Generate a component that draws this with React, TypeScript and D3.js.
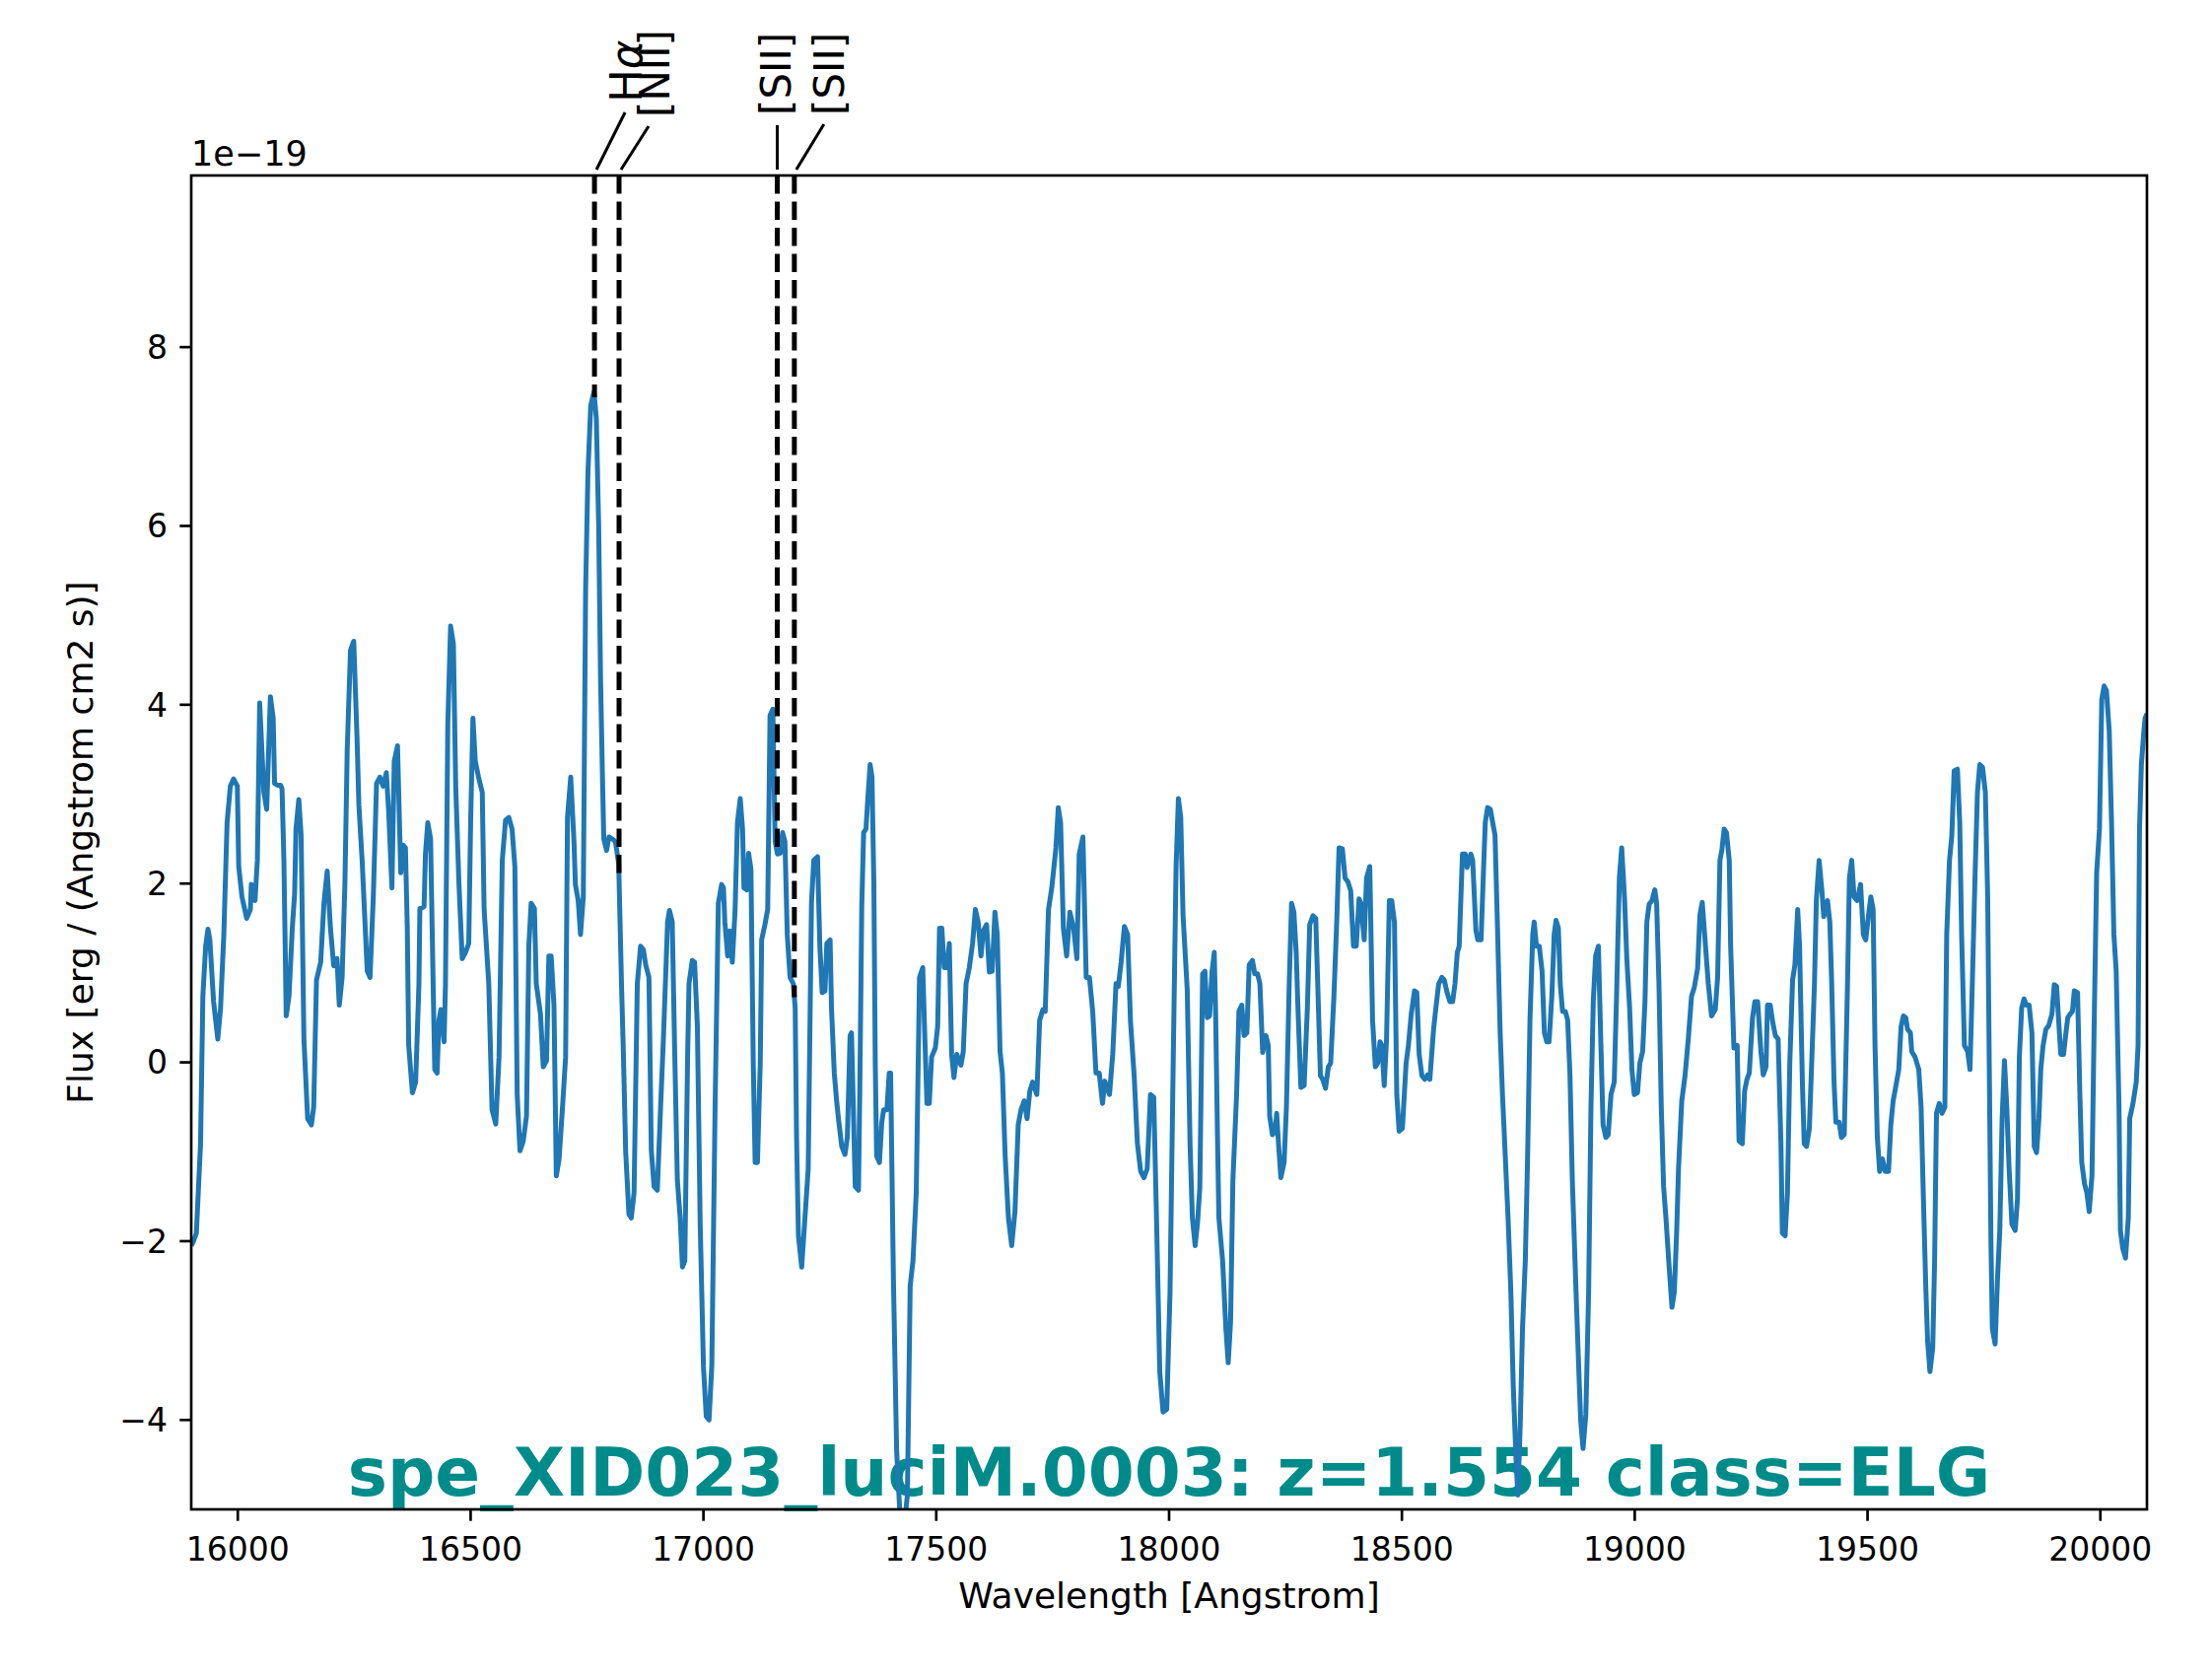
import React, { useEffect, useRef } from "react";
import * as d3 from "d3";

// ---------------- data ----------------
const wavelength: number[] = [
  15900, 15904, 15911, 15920, 15925, 15931, 15936, 15940, 15948, 15957, 15963, 15970, 15977, 15984, 15991, 15999,
  16002, 16009, 16019, 16027, 16029, 16037, 16042, 16047, 16056, 16062, 16070, 16076, 16079, 16085, 16092, 16095,
  16099, 16104, 16110, 16117, 16122, 16125, 16131, 16136, 16142, 16150, 16158, 16163, 16169, 16178, 16185, 16192,
  16199, 16206, 16213, 16218, 16224, 16230, 16235, 16242, 16249, 16256, 16260, 16267, 16278, 16284, 16291, 16298,
  16305, 16312, 16319, 16324, 16331, 16336, 16343, 16350, 16355, 16360, 16364, 16367, 16375, 16382, 16389, 16391,
  16400, 16403, 16408, 16414, 16420, 16423, 16428, 16432, 16436, 16443, 16446, 16451, 16457, 16463, 16468, 16475,
  16482, 16489, 16496, 16500, 16505, 16510, 16517, 16525, 16529, 16539, 16546, 16554, 16561, 16568, 16575, 16582,
  16589, 16595, 16600, 16606, 16613, 16620, 16625, 16630, 16637, 16641, 16650, 16656, 16663, 16668, 16673, 16679,
  16684, 16690, 16697, 16704, 16708, 16715, 16722, 16725, 16731, 16736, 16742, 16747, 16752, 16758, 16765, 16770,
  16775, 16779, 16783, 16786, 16792, 16797, 16804, 16811, 16818, 16824, 16828, 16833, 16840, 16845, 16851, 16858,
  16865, 16871, 16876, 16883, 16888, 16894, 16901, 16908, 16914, 16923, 16927, 16933, 16938, 16944, 16950, 16955,
  16960, 16966, 16969, 16976, 16981, 16987, 16993, 17000, 17006, 17012, 17018, 17025, 17032, 17039, 17043, 17046,
  17052, 17057, 17062, 17068, 17073, 17079, 17084, 17087, 17093, 17097, 17102, 17107, 17111, 17116, 17122, 17125,
  17132, 17138, 17143, 17149, 17154, 17159, 17165, 17170, 17175, 17180, 17186, 17193, 17197, 17200, 17204, 17211,
  17218, 17225, 17232, 17237, 17245, 17250, 17255, 17261, 17265, 17272, 17275, 17281, 17286, 17290, 17297, 17304,
  17309, 17315, 17318, 17326, 17333, 17336, 17340, 17344, 17349, 17353, 17358, 17362, 17366, 17369, 17372, 17378,
  17383, 17387, 17394, 17399, 17402, 17408, 17415, 17422, 17429, 17438, 17444, 17450, 17457, 17464, 17471, 17476,
  17480, 17485, 17490, 17498, 17503, 17507, 17512, 17517, 17523, 17528, 17533, 17538, 17544, 17553, 17558, 17564,
  17571, 17578, 17584, 17590, 17596, 17601, 17608, 17614, 17620, 17626, 17631, 17637, 17642, 17648, 17655, 17662,
  17669, 17676, 17682, 17689, 17695, 17701, 17707, 17716, 17722, 17729, 17734, 17741, 17748, 17757, 17762, 17767,
  17773, 17780, 17787, 17795, 17802, 17807, 17815, 17822, 17829, 17836, 17843, 17850, 17857, 17862, 17872, 17879,
  17886, 17891, 17897, 17904, 17911, 17917, 17925, 17932, 17939, 17946, 17953, 17960, 17967, 17973, 17980, 17987,
  17995, 18002, 18009, 18015, 18020, 18025, 18030, 18039, 18045, 18050, 18056, 18061, 18066, 18072, 18077, 18082,
  18087, 18092, 18097, 18100, 18104, 18107, 18115, 18122, 18127, 18132, 18137, 18145, 18150, 18156, 18161, 18167,
  18172, 18179, 18184, 18190, 18195, 18201, 18208, 18213, 18216, 18222, 18228, 18231, 18235, 18240, 18247, 18252,
  18258, 18263, 18268, 18273, 18277, 18283, 18290, 18297, 18302, 18309, 18315, 18320, 18325, 18330, 18336, 18342,
  18347, 18354, 18360, 18365, 18372, 18378, 18384, 18390, 18396, 18402, 18408, 18412, 18419, 18424, 18431, 18437,
  18443, 18448, 18453, 18457, 18462, 18467, 18473, 18478, 18484, 18489, 18494, 18501, 18509, 18514, 18520, 18527,
  18532, 18537, 18543, 18549, 18555, 18560, 18568, 18573, 18579, 18586, 18591, 18597, 18603, 18609, 18614, 18619,
  18623, 18630, 18636, 18640, 18648, 18652, 18659, 18663, 18670, 18675, 18679, 18684, 18690, 18695, 18700, 18705,
  18711, 18716, 18722, 18728, 18734, 18739, 18745, 18749, 18754, 18759, 18765, 18770, 18775, 18781, 18784, 18789,
  18795, 18801, 18806, 18811, 18816, 18822, 18827, 18831, 18836, 18840, 18845, 18851, 18856, 18861, 18866, 18874,
  18881, 18884, 18889, 18895, 18901, 18906, 18911, 18916, 18922, 18927, 18932, 18938, 18943, 18949, 18956, 18961,
  18967, 18972, 18978, 18983, 18989, 18994, 18999, 19006, 19011, 19017, 19022, 19026, 19031, 19037, 19043, 19047,
  19052, 19057, 19062, 19067, 19073, 19080, 19085, 19090, 19094, 19101, 19108, 19115, 19122, 19128, 19135, 19140,
  19145, 19152, 19158, 19165, 19173, 19178, 19183, 19187, 19192, 19197, 19203, 19206, 19213, 19220, 19224, 19231,
  19236, 19241, 19246, 19253, 19258, 19264, 19271, 19276, 19282, 19285, 19291, 19297, 19302, 19308, 19314, 19317,
  19323, 19328, 19333, 19339, 19344, 19350, 19354, 19360, 19364, 19369, 19375, 19380, 19386, 19390, 19396, 19402,
  19406, 19414, 19419, 19423, 19428, 19432, 19439, 19444, 19450, 19453, 19457, 19461, 19466, 19471, 19478, 19485,
  19491, 19496, 19502, 19507, 19512, 19516, 19521, 19526, 19532, 19538, 19545, 19550, 19555, 19561, 19567, 19572,
  19577, 19582, 19586, 19592, 19595, 19602, 19610, 19615, 19620, 19625, 19629, 19634, 19640, 19644, 19648, 19654,
  19660, 19666, 19670, 19676, 19681, 19686, 19693, 19698, 19702, 19708, 19715, 19720, 19725, 19731, 19736, 19741,
  19747, 19753, 19758, 19761, 19765, 19768, 19774, 19779, 19784, 19789, 19794, 19799, 19804, 19810, 19817, 19822,
  19826, 19831, 19836, 19841, 19847, 19853, 19858, 19863, 19868, 19872, 19877, 19883, 19889, 19896, 19901, 19906,
  19912, 19915, 19921, 19926, 19930, 19935, 19940, 19944, 19951, 19956, 19960, 19966, 19971, 19976, 19982, 19987,
  19992, 19998, 20003, 20008, 20013, 20019, 20024, 20029, 20034, 20040, 20043, 20048, 20054, 20060, 20063, 20070,
  20077, 20081, 20084, 20088, 20093, 20096, 20100,
];

const flux: number[] = [
  -2.05, -2.01, -1.91, -0.91, 0.74, 1.30, 1.49, 1.37, 0.68, 0.26, 0.61, 1.43, 2.68, 3.09, 3.17, 3.09,
  2.19, 1.85, 1.61, 1.71, 1.99, 1.81, 2.26, 4.02, 3.02, 2.83, 4.09, 3.85, 3.12, 3.10, 3.10, 3.06,
  2.26, 0.52, 0.74, 1.50, 1.88, 2.61, 2.94, 2.54, 0.26, -0.63, -0.70, -0.50, 0.92, 1.12, 1.78, 2.14,
  1.50, 1.08, 1.16, 0.64, 0.95, 1.99, 3.50, 4.61, 4.71, 3.64, 2.88, 2.26, 1.02, 0.95, 1.85, 3.12,
  3.19, 3.09, 3.24, 2.81, 1.95, 3.37, 3.54, 2.12, 2.43, 2.40, 1.50, 0.19, -0.34, -0.22, 0.88, 1.72,
  1.74, 2.33, 2.68, 2.50, 0.74, -0.08, -0.12, 0.47, 0.59, 0.23, 0.88, 3.78, 4.88, 4.68, 3.09, 1.99,
  1.16, 1.23, 1.33, 2.68, 3.85, 3.37, 3.19, 3.02, 1.71, 0.88, -0.53, -0.69, 0.06, 2.26, 2.71, 2.74,
  2.61, 2.19, -0.36, -0.99, -0.88, -0.60, 1.30, 1.78, 1.72, 0.88, 0.54, -0.05, 0.02, 1.19, 1.19, 0.64,
  -1.27, -1.08, -0.53, 0.06, 2.74, 3.19, 2.47, 1.99, 1.81, 1.43, 1.85, 5.30, 6.60, 7.35, 7.50, 7.20,
  6.00, 4.30, 3.23, 2.50, 2.37, 2.52, 2.50, 2.47, 2.22, 0.88, 0.12, -1.00, -1.70, -1.74, -1.46, 0.88,
  1.30, 1.26, 1.09, 0.95, -0.98, -1.39, -1.43, -0.50, 0.26, 1.57, 1.70, 1.57, 0.19, -1.32, -1.74, -2.29,
  -2.22, 0.06, 0.88, 1.14, 1.12, 0.40, -1.80, -3.40, -3.96, -4.00, -3.39, -0.50, 1.78, 1.99, 1.95, 1.57,
  1.19, 1.47, 1.12, 1.71, 2.68, 2.95, 2.61, 1.95, 1.93, 2.34, 2.16, -0.01, -1.12, -1.12, -0.01, 1.37,
  1.54, 1.71, 3.88, 3.95, 2.47, 2.33, 2.34, 2.57, 2.47, 1.43, 0.95, 0.88, 0.61, -0.84, -1.94, -2.29,
  -1.74, -1.19, 1.78, 2.26, 2.30, 1.30, 0.78, 0.80, 1.33, 1.37, 0.61, -0.12, -0.43, -0.63, -0.94, -1.03,
  -0.84, 0.30, 0.33, -1.39, -1.43, -0.22, 1.74, 2.57, 2.61, 2.95, 3.33, 3.19, 1.99, -0.01, -1.05, -1.12,
  -0.67, -0.53, -0.53, -0.12, -0.12, -2.43, -4.36, -5.05, -5.30, -4.84, -2.50, -2.22, -1.46, 0.95, 1.06, 0.19,
  -0.46, -0.46, 0.06, 0.16, 0.40, 1.50, 1.50, 1.06, 1.06, 1.33, 0.09, -0.17, 0.09, -0.03, 0.12, 0.88,
  1.06, 1.33, 1.71, 1.57, 1.19, 1.47, 1.54, 1.01, 1.02, 1.68, 1.43, 0.12, -0.12, -1.05, -1.74, -2.05,
  -1.67, -0.70, -0.53, -0.43, -0.63, -0.32, -0.22, -0.36, 0.47, 0.59, 0.57, 1.71, 1.95, 2.40, 2.85, 2.68,
  1.50, 1.19, 1.68, 1.50, 1.16, 2.33, 2.52, 0.95, 0.95, 0.57, -0.12, -0.12, -0.46, -0.21, -0.36, 0.09,
  0.88, 0.85, 1.12, 1.52, 1.43, 0.47, -0.15, -0.91, -1.22, -1.29, -1.19, -0.36, -0.39, -1.74, -3.46, -3.91,
  -3.88, -2.57, 0.06, 2.19, 2.95, 2.74, 1.64, 0.81, -0.91, -1.74, -2.05, -1.80, -1.40, 0.99, 1.02, 0.50,
  0.52, 1.00, 1.23, 0.54, -0.84, -1.74, -2.22, -2.98, -3.36, -2.91, -1.32, -0.36, 0.57, 0.64, 0.30, 0.33,
  1.09, 1.14, 0.99, 0.99, 0.88, 0.11, 0.30, 0.19, -0.60, -0.81, -0.77, -0.57, -0.91, -1.29, -1.12, -0.50,
  0.88, 1.78, 1.68, 1.23, 0.57, -0.28, -0.26, 0.61, 1.54, 1.64, 1.61, 0.74, -0.15, -0.19, -0.29, -0.05,
  -0.01, 0.74, 1.57, 2.40, 2.39, 2.06, 2.02, 1.92, 1.30, 1.30, 1.83, 1.78, 1.37, 2.06, 2.19, 0.47,
  -0.05, -0.01, 0.23, 0.19, -0.26, 0.26, 1.81, 1.81, 1.57, -0.36, -0.77, -0.74, -0.01, 0.19, 0.54, 0.80,
  0.78, 0.09, -0.15, -0.19, -0.14, -0.19, 0.37, 0.61, 0.88, 0.95, 0.92, 0.78, 0.68, 0.68, 0.88, 1.23,
  1.30, 2.33, 2.33, 2.18, 2.33, 2.26, 1.47, 1.37, 1.37, 2.12, 2.68, 2.85, 2.83, 2.68, 2.54, 1.57,
  0.33, -0.36, -1.05, -1.74, -2.57, -3.60, -4.43, -4.84, -4.08, -2.98, -2.22, -1.05, 0.47, 1.43, 1.57, 1.30,
  1.30, 1.02, 0.33, 0.23, 0.23, 0.74, 1.43, 1.59, 1.50, 0.88, 0.57, 0.57, 0.47, -0.15, -1.32, -2.57,
  -3.60, -4.01, -4.32, -3.94, -2.57, -0.50, 0.68, 1.19, 1.30, 0.26, -0.70, -0.84, -0.81, -0.36, -0.22, 0.74,
  2.06, 2.40, 1.85, 1.16, 0.61, -0.08, -0.36, -0.34, -0.01, 0.12, 0.68, 1.57, 1.77, 1.81, 1.93, 1.78,
  0.88, -0.50, -1.39, -1.74, -2.22, -2.74, -2.57, -1.90, -1.19, -0.43, -0.15, 0.26, 0.74, 0.84, 1.05, 1.65,
  1.79, 1.30, 0.88, 0.52, 0.59, 0.95, 2.26, 2.37, 2.61, 2.57, 2.26, 1.30, 0.16, 0.19, -0.88, -0.91,
  -0.32, -0.19, -0.12, 0.50, 0.68, 0.68, 0.12, -0.14, -0.05, 0.64, 0.64, 0.43, 0.30, 0.26, -0.91, -1.91,
  -1.94, -1.46, -0.01, 0.92, 1.09, 1.71, 1.30, -0.22, -0.91, -0.94, -0.74, -0.01, 0.88, 1.81, 2.26, 1.92,
  1.63, 1.81, 1.57, 0.88, -0.22, -0.67, -0.67, -0.84, -0.81, -0.08, 0.88, 2.06, 2.26, 1.85, 1.81, 1.99,
  1.43, 1.37, 1.64, 1.85, 1.71, 0.19, -0.84, -1.22, -1.08, -1.22, -1.22, -0.70, -0.43, -0.26, -0.08, 0.40,
  0.52, 0.50, 0.37, 0.33, 0.12, 0.06, -0.08, -0.50, -1.53, -2.50, -3.12, -3.46, -3.19, -2.22, -0.57, -0.46,
  -0.57, -0.50, 1.43, 2.26, 2.54, 3.26, 3.28, 2.68, 1.43, 0.19, 0.12, -0.08, 0.88, 2.12, 3.02, 3.33,
  3.30, 3.02, 1.85, 0.19, -2.01, -2.98, -3.15, -2.43, -1.88, -0.63, 0.02, -0.50, -1.19, -1.81, -1.88, -1.53,
  0.06, 0.61, 0.71, 0.64, 0.64, 0.33, -0.94, -1.01, -0.63, -0.08, 0.19, 0.37, 0.41, 0.54, 0.87, 0.85,
  0.33, 0.09, 0.09, 0.33, 0.50, 0.54, 0.57, 0.80, 0.78, -0.36, -1.12, -1.36, -1.46, -1.67, -1.26, 0.54,
  2.12, 2.61, 4.06, 4.21, 4.16, 3.71, 2.68, 1.43, 1.02, -0.50, -1.88, -2.08, -2.19, -1.74, -0.63, -0.46,
  -0.22, 0.19, 2.61, 3.33, 3.68, 3.85, 3.90,
];

const lineNames: string[] = ["H\u03b1", "[NII]", "[SII]", "[SII]"];
const lineRestWavelength: number[] = [6564.61, 6585.27, 6718.29, 6732.67];
const redshift = 1.554;
const sourceName = "spe_XID023_luciM.0003";
const sourceClass = "ELG";

const xTicks: number[] = [16000, 16500, 17000, 17500, 18000, 18500, 19000, 19500, 20000];
const yTicks: number[] = [-4, -2, 0, 2, 4, 6, 8];
const xDomain: number[] = [15900, 20100];
const yDomain: number[] = [-5, 9.92];

// ---------------- layout (pixels) ----------------
const W = 2244;
const H = 1699;
const M = { left: 194, right: 2178, top: 178, bottom: 1531 };
// line-id placement: [connector start dx, connector end dx, connector end y, text baseline dx, text start y, font size]
const labelLayout: number[][] = [
  [2, 31, 114, 48, 104, 45],
  [2, 30, 128, 51, 119, 42],
  [0, 0, 127, 14, 117, 42],
  [2, 30, 126, 50, 117, 42],
];

const FONT = "DejaVu Sans, Liberation Sans, sans-serif";

export default function App() {
  const ref = useRef<SVGSVGElement | null>(null);

  useEffect(() => {
    document.body.style.margin = "0";
    const svg = d3.select(ref.current);
    svg.selectAll("*").remove();

    const x = d3.scaleLinear().domain(xDomain).range([M.left, M.right]);
    const y = d3.scaleLinear().domain(yDomain).range([M.bottom, M.top]);

    svg.append("rect").attr("x", 0).attr("y", 0).attr("width", W).attr("height", H).attr("fill", "white");

    const defs = svg.append("defs");
    defs
      .append("clipPath")
      .attr("id", "axclip")
      .append("rect")
      .attr("x", M.left)
      .attr("y", M.top)
      .attr("width", M.right - M.left)
      .attr("height", M.bottom - M.top);

    // title text inside axes (below the spectrum line)
    svg
      .append("text")
      .attr("x", (M.left + M.right) / 2)
      .attr("y", 1517)
      .attr("text-anchor", "middle")
      .attr("font-family", FONT)
      .attr("font-weight", "bold")
      .attr("font-size", 67.6)
      .attr("fill", "#008b8b")
      .text(`${sourceName}: z=${redshift.toFixed(3)} class=${sourceClass}`);

    const pts = wavelength.map((w, i) => [w, flux[i]] as [number, number]);
    const line = d3
      .line<[number, number]>()
      .x((d) => x(d[0]))
      .y((d) => y(d[1]));

    svg
      .append("path")
      .attr("d", line(pts) || "")
      .attr("fill", "none")
      .attr("stroke", "#1f77b4")
      .attr("stroke-width", 5)
      .attr("stroke-linejoin", "round")
      .attr("stroke-linecap", "butt")
      .attr("clip-path", "url(#axclip)");

    // emission line markers
    const interp = (w: number) => {
      const i = d3.bisectLeft(wavelength, w);
      if (i <= 0) return flux[0];
      if (i >= wavelength.length) return flux[flux.length - 1];
      const w0 = wavelength[i - 1], w1 = wavelength[i];
      const t = (w - w0) / (w1 - w0);
      return flux[i - 1] + t * (flux[i] - flux[i - 1]);
    };

    lineRestWavelength.forEach((rw, k) => {
      const obs = rw * (1 + redshift);
      const px = x(obs);
      const fv = interp(obs);
      svg
        .append("line")
        .attr("x1", px)
        .attr("x2", px)
        .attr("y1", y(yDomain[1]))
        .attr("y2", y(fv))
        .attr("stroke", "black")
        .attr("stroke-width", 5)
        .attr("stroke-dasharray", "18.5 8");

      const [sdx, edx, ey, tdx, ty, fs] = labelLayout[k];
      svg
        .append("line")
        .attr("x1", px + sdx)
        .attr("y1", M.top - 6)
        .attr("x2", px + edx)
        .attr("y2", ey)
        .attr("stroke", "black")
        .attr("stroke-width", 3);

      const t = svg
        .append("text")
        .attr("transform", `translate(${px + tdx},${ty}) rotate(-90)`)
        .attr("text-anchor", "start")
        .attr("font-family", FONT)
        .attr("font-size", fs)
        .attr("fill", "black");
      const name = lineNames[k];
      if (name.includes("\u03b1")) {
        t.append("tspan").text(name.replace("\u03b1", ""));
        t.append("tspan").attr("font-style", "italic").text("\u03b1");
      } else {
        t.text(name);
      }
    });

    // spines
    svg
      .append("rect")
      .attr("x", M.left)
      .attr("y", M.top)
      .attr("width", M.right - M.left)
      .attr("height", M.bottom - M.top)
      .attr("fill", "none")
      .attr("stroke", "black")
      .attr("stroke-width", 2.67);

    // x ticks
    const gx = svg.append("g");
    xTicks.forEach((t) => {
      gx.append("line")
        .attr("x1", x(t))
        .attr("x2", x(t))
        .attr("y1", M.bottom)
        .attr("y2", M.bottom + 11.7)
        .attr("stroke", "black")
        .attr("stroke-width", 2.67);
      gx.append("text")
        .attr("x", x(t))
        .attr("y", 1583)
        .attr("text-anchor", "middle")
        .attr("font-family", FONT)
        .attr("font-size", 33)
        .text(String(t));
    });

    // y ticks
    const gy = svg.append("g");
    yTicks.forEach((t) => {
      gy.append("line")
        .attr("x1", M.left - 11.7)
        .attr("x2", M.left)
        .attr("y1", y(t))
        .attr("y2", y(t))
        .attr("stroke", "black")
        .attr("stroke-width", 2.67);
      gy.append("text")
        .attr("x", M.left - 24)
        .attr("y", y(t))
        .attr("dy", "0.36em")
        .attr("text-anchor", "end")
        .attr("font-family", FONT)
        .attr("font-size", 33)
        .text(t < 0 ? `\u2212${Math.abs(t)}` : String(t));
    });

    // offset text
    svg
      .append("text")
      .attr("x", M.left)
      .attr("y", 168)
      .attr("font-family", FONT)
      .attr("font-size", 35)
      .text("1e\u221219");

    // axis labels
    svg
      .append("text")
      .attr("x", (M.left + M.right) / 2)
      .attr("y", 1631)
      .attr("text-anchor", "middle")
      .attr("font-family", FONT)
      .attr("font-size", 36)
      .text("Wavelength [Angstrom]");

    svg
      .append("text")
      .attr("transform", `translate(94,${(M.top + M.bottom) / 2}) rotate(-90)`)
      .attr("text-anchor", "middle")
      .attr("font-family", FONT)
      .attr("font-size", 36)
      .text("Flux [erg / (Angstrom cm2 s)]");
  }, []);

  return (
    <svg
      ref={ref}
      width={W}
      height={H}
      style={{ position: "absolute", left: 0, top: 0, display: "block" }}
    />
  );
}
